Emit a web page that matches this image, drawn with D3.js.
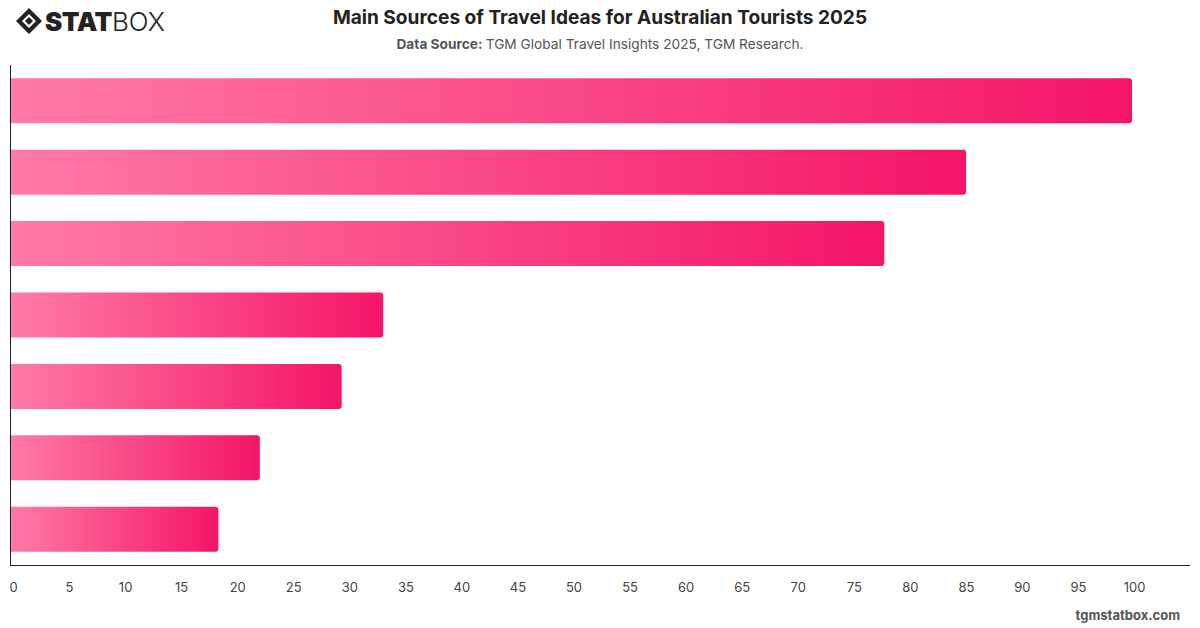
<html lang="en">
<head>
  <script src="https://d3js.org/d3.v7.min.js"></script>
  <style>
    body { margin: 0; background: #fff; }
    text { font-family: Inter, "Noto Sans", sans-serif; }
    .tick text { fill: #444; font-size: 13px; }
  </style>
</head>
<body>
  <svg width="1200" height="628" id="svg-container"></svg>
  <script>
    // DATA
    const categories = ["Source 1", "Source 2", "Source 3", "Source 4", "Source 5", "Source 6", "Source 7"];
    const values = [100, 85.2, 77.9, 33.2, 29.5, 22.2, 18.5];
    const tickValues = [0, 5, 10, 15, 20, 25, 30, 35, 40, 45, 50, 55, 60, 65, 70, 75, 80, 85, 90, 95, 100];
    //END DATA

    const svg = d3.select("svg#svg-container");
    const margin = { left: 11, right: 10, top: 65, bottom: 63 };
    const width = 1200, height = 628;

    const x = d3.scaleLinear().domain([0, 100]).range([margin.left, 1132]);
    const y = d3.scaleBand().domain(categories)
      .range([margin.top, height - margin.bottom]).paddingInner(0.37).paddingOuter(0.185);

    // gradient for bars
    const defs = svg.append("defs");
    const grad = defs.append("linearGradient").attr("id", "barGrad")
      .attr("x1", "0%").attr("x2", "100%").attr("y1", "0%").attr("y2", "0%");
    grad.append("stop").attr("offset", "0%").attr("stop-color", "#ff7aa6");
    grad.append("stop").attr("offset", "100%").attr("stop-color", "#f41568");

    // title
    svg.append("text").attr("x", 600).attr("y", 24).attr("text-anchor", "middle")
      .attr("font-size", 19.1).attr("font-weight", 700).attr("fill", "#222")
      .text("Main Sources of Travel Ideas for Australian Tourists 2025");
    const sub = svg.append("text").attr("x", 600).attr("y", 49).attr("text-anchor", "middle")
      .attr("font-size", 13.7).attr("fill", "#555");
    sub.append("tspan").attr("font-weight", 700).text("Data Source: ");
    sub.append("tspan").text("TGM Global Travel Insights 2025, TGM Research.");

    // logo
    const logo = svg.append("g").attr("transform", "translate(29,21)");
    logo.append("path").attr("d", "M0,-13 L13,0 L0,13 L-13,0 Z M0,-7 L7,0 L0,7 L-7,0 Z")
      .attr("fill", "#222").attr("fill-rule", "evenodd");
    logo.append("path").attr("d", "M0,-4 L4,0 L0,4 L-4,0 Z").attr("fill", "#222");
    const lt = svg.append("text").attr("x", 45).attr("y", 31).attr("font-size", 26).attr("fill", "#222");
    lt.append("tspan").attr("font-weight", 900).attr("letter-spacing", -0.5).text("STAT");
    lt.append("tspan").attr("font-weight", 300).text("BOX");

    // bars
    svg.append("g").selectAll("path").data(values).enter()
      .append("path")
      .attr("fill", "url(#barGrad)")
      .attr("d", (d, i) => {
        const x0 = x(0), x1 = x(d), y0 = y(categories[i]), h = y.bandwidth(), r = 3;
        return `M${x0},${y0} H${x1 - r} Q${x1},${y0} ${x1},${y0 + r} V${y0 + h - r} Q${x1},${y0 + h} ${x1 - r},${y0 + h} H${x0} Z`;
      });

    // axes lines
    svg.append("line").attr("x1", 10.5).attr("x2", 10.5).attr("y1", margin.top).attr("y2", height - margin.bottom + 0.5)
      .attr("stroke", "#222").attr("stroke-width", 1);
    svg.append("line").attr("x1", 10).attr("x2", 1190).attr("y1", height - margin.bottom + 0.5).attr("y2", height - margin.bottom + 0.5)
      .attr("stroke", "#222").attr("stroke-width", 1);

    const xAxis = d3.axisBottom(x).tickValues(tickValues).tickSize(0).tickPadding(18);
    const ax = svg.append("g").attr("transform", `translate(2,${height - margin.bottom})`).call(xAxis);
    ax.select(".domain").remove();
    ax.selectAll(".tick text").attr("font-family", "Inter, 'Noto Sans', sans-serif");

    // watermark
    svg.append("text").attr("x", 1180).attr("y", 620).attr("text-anchor", "end")
      .attr("font-size", 13).attr("font-weight", 700).attr("fill", "#555").text("tgmstatbox.com");
  </script>
</body>
</html>
